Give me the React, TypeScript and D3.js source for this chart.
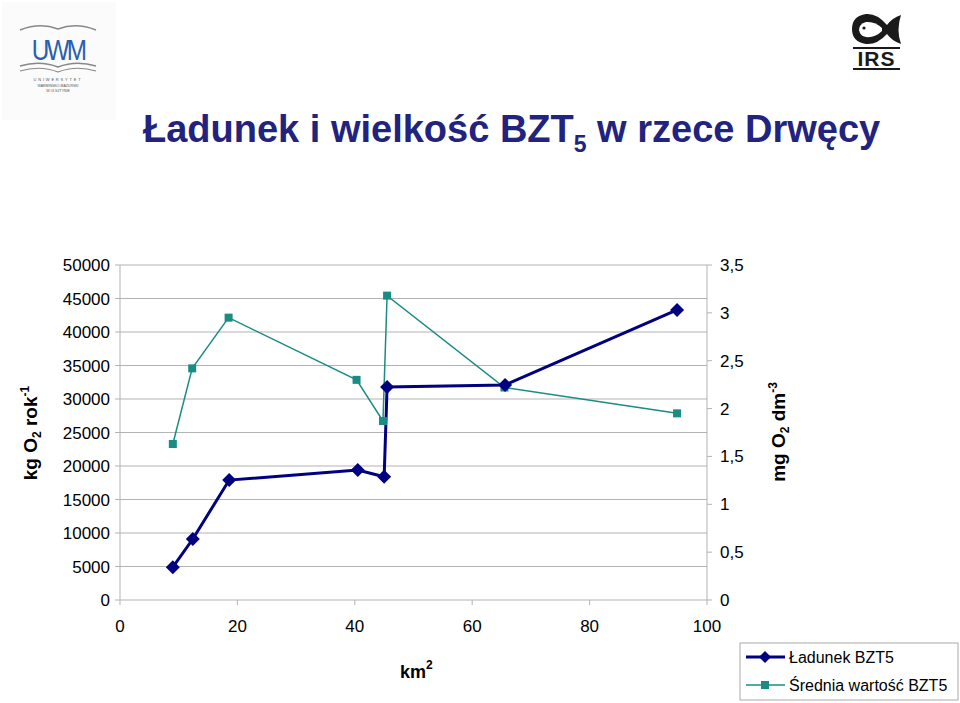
import React from "react";
import * as d3 from "d3";

const kmLoad = [9.0, 12.4, 18.6, 40.5, 45.0, 45.5, 65.6, 94.9];
const loadValues = [4900, 9100, 17900, 19400, 18400, 31800, 32100, 43300];
const kmMean = [9.0, 12.3, 18.5, 40.3, 44.8, 45.5, 65.5, 94.9];
const meanValues = [1.63, 2.42, 2.95, 2.3, 1.87, 3.18, 2.22, 1.95];
const leftTicks = [0, 5000, 10000, 15000, 20000, 25000, 30000, 35000, 40000, 45000, 50000];
const rightTicks = [0, 0.5, 1, 1.5, 2, 2.5, 3, 3.5];
const xTicks = [0, 20, 40, 60, 80, 100];
const seriesNames = ["Ładunek BZT5", "Średnia wartość BZT5"];

const NAVY = "#000080";
const TEAL = "#1a8c84";

export default function App() {
  const x = d3.scaleLinear().domain([0, 100]).range([120, 707]);
  const yL = d3.scaleLinear().domain([0, 50000]).range([600, 265]);
  const yR = d3.scaleLinear().domain([0, 3.5]).range([600, 265]);

  const loadPts = kmLoad.map((k, i) => [x(k), yL(loadValues[i])] as [number, number]);
  const meanPts = kmMean.map((k, i) => [x(k), yR(meanValues[i])] as [number, number]);
  const line = d3.line();
  const diamond = (cx: number, cy: number, r: number) =>
    `M${cx},${cy - r}L${cx + r},${cy}L${cx},${cy + r}L${cx - r},${cy}Z`;
  const fmtR = (v: number) => String(v).replace(".", ",");
  const font = "Liberation Sans, Arial, sans-serif";

  return (
    <svg width={960} height={703} style={{ position: "absolute", left: 0, top: 0, background: "#fff" }} fontFamily={font}>
      <rect width={960} height={703} fill="#fff" />
      {/* UWM logo */}
      <g>
        <rect x={2} y={2} width={114} height={118} fill="#fbfbfb" />
        <path d="M20,30 Q40,22 58,29 Q76,22 96,30" fill="none" stroke="#888" strokeWidth={1.5} />
        <text x={58} y={60} textAnchor="middle" fontSize={27} fill="#2a5fb0" letterSpacing={-3} transform="translate(58,60) scale(0.9,1.1) translate(-58,-60)">UWM</text>
        <path d="M20,66 Q40,60 58,67 Q76,60 96,66" fill="none" stroke="#888" strokeWidth={1.5} />
        <path d="M20,71 Q40,65 58,72 Q76,65 96,71" fill="none" stroke="#888" strokeWidth={1.2} />
        <text x={58} y={81} textAnchor="middle" fontSize={4} fill="#555" letterSpacing={1.8}>UNIWERSYTET</text>
        <text x={58} y={87} textAnchor="middle" fontSize={3.5} fill="#555">WARMIŃSKO-MAZURSKI</text>
        <text x={58} y={92} textAnchor="middle" fontSize={3.5} fill="#555">W OLSZTYNIE</text>
      </g>
      {/* IRS logo */}
      <g>
        <path d="M901,15 Q892,18 887,25 Q877,13 866,14 Q852,16 852,29 Q852,42 866,44 Q877,45 887,34 Q892,41 901,44 Q896,30 901,15 Z" fill="#1a1a1a" />
        <path d="M882,28 Q875,21 866,22 Q859,24 859,30 Q860,36 866,37 Q875,38 882,31 Z" fill="#fff" />
        <circle cx={864} cy={28} r={1.6} fill="#1a1a1a" />
        <line x1={853} y1={48} x2={900} y2={48} stroke="#1a1a1a" strokeWidth={2} />
        <text x={876.5} y={66} textAnchor="middle" fontSize={21} fontWeight="bold" fill="#1a1a1a" letterSpacing={1}>IRS</text>
        <line x1={853} y1={69} x2={900} y2={69} stroke="#1a1a1a" strokeWidth={2} />
      </g>
      {/* Title */}
      <text x={143} y={142} fontSize={38} fontWeight="bold" fill="#22227f">
        Ładunek i wielkość BZT
        <tspan fontSize={23} dy={10}>5</tspan>
        <tspan dy={-10}> w rzece Drwęcy</tspan>
      </text>

      {/* gridlines */}
      {leftTicks.map((t) => (
        <line key={"g" + t} x1={120} x2={707} y1={yL(t)} y2={yL(t)} stroke="#b3b3b3" strokeWidth={1} />
      ))}
      <line x1={120} x2={120} y1={265} y2={600} stroke="#b3b3b3" />
      <line x1={707} x2={707} y1={265} y2={600} stroke="#b3b3b3" />
      {/* left ticks */}
      {leftTicks.map((t) => (
        <g key={"l" + t}>
          <line x1={115} x2={120} y1={yL(t)} y2={yL(t)} stroke="#b3b3b3" />
          <text x={110} y={yL(t) + 6} textAnchor="end" fontSize={17} fill="#000">{t}</text>
        </g>
      ))}
      {rightTicks.map((t) => (
        <g key={"r" + t}>
          <line x1={707} x2={712} y1={yR(t)} y2={yR(t)} stroke="#b3b3b3" />
          <text x={720} y={yR(t) + 6} textAnchor="start" fontSize={17} fill="#000">{fmtR(t)}</text>
        </g>
      ))}
      {xTicks.map((t) => (
        <g key={"x" + t}>
          <line x1={x(t)} x2={x(t)} y1={600} y2={605} stroke="#b3b3b3" />
          <text x={x(t)} y={632} textAnchor="middle" fontSize={17} fill="#000">{t}</text>
        </g>
      ))}

      {/* axis titles */}
      <text transform="translate(37,433) rotate(-90)" textAnchor="middle" fontSize={19} fontWeight="bold">
        kg O<tspan fontSize={12} dy={4}>2</tspan><tspan dy={-4}> rok</tspan><tspan fontSize={12} dy={-8}>-1</tspan>
      </text>
      <text transform="translate(785,432) rotate(-90)" textAnchor="middle" fontSize={19} fontWeight="bold">
        mg O<tspan fontSize={12} dy={4}>2</tspan><tspan dy={-4}> dm</tspan><tspan fontSize={12} dy={-8}>-3</tspan>
      </text>
      <text x={400} y={678} fontSize={18} fontWeight="bold">
        km<tspan fontSize={12} dy={-9}>2</tspan>
      </text>

      {/* series */}
      <path d={line(meanPts) || ""} fill="none" stroke={TEAL} strokeWidth={1.5} />
      <path d={line(loadPts) || ""} fill="none" stroke={NAVY} strokeWidth={3} />
      {meanPts.map(([px, py], i) => (
        <rect key={"m" + i} x={px - 4} y={py - 4} width={8} height={8} fill={TEAL} />
      ))}
      {loadPts.map(([px, py], i) => (
        <path key={"d" + i} d={diamond(px, py, 7)} fill={NAVY} />
      ))}

      {/* legend */}
      <rect x={740} y={643} width={218} height={57} fill="#fff" stroke="#aaa" />
      <line x1={746} x2={785} y1={657} y2={657} stroke={NAVY} strokeWidth={3} />
      <path d={diamond(765, 657, 6)} fill={NAVY} />
      <text x={789} y={663} fontSize={16}>{seriesNames[0]}</text>
      <line x1={746} x2={785} y1={685} y2={685} stroke={TEAL} strokeWidth={1.5} />
      <rect x={761} y={681} width={8} height={8} fill={TEAL} />
      <text x={789} y={691} fontSize={16}>{seriesNames[1]}</text>
    </svg>
  );
}
